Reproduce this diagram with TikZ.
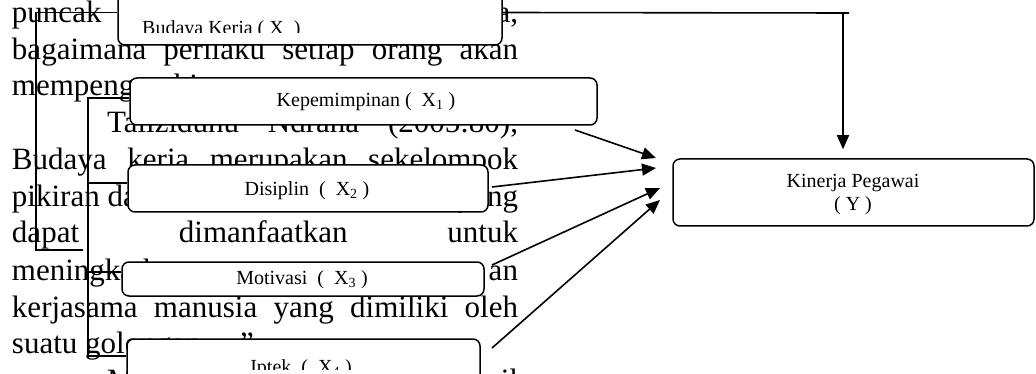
\documentclass[tikz,border=0pt]{standalone}
\usepackage{fontspec}
\setmainfont{Liberation Serif}
\usetikzlibrary{arrows.meta}
\begin{document}
\begin{tikzpicture}[x=1pt,y=-1pt,
  bg/.style={font=\fontsize{31}{37}\selectfont, inner sep=0pt, outer sep=0pt},
  box/.style={draw, line width=1.5pt, rounded corners=7pt, fill=white, inner sep=0pt},
  lbl/.style={font=\fontsize{20}{23}\selectfont, inner sep=0pt, align=center},
  ln/.style={line width=1.6pt},
  arr/.style={line width=1.6pt, -{Triangle[length=14pt,width=12pt]}}]
\useasboundingbox (0,0) rectangle (1036,374);
\clip (0,0) rectangle (1036,374);
\fill[white] (0,0) rectangle (1036,374);
% background paragraph
\node[bg, anchor=base west] (t1a) at (12,23) {puncak};
\node[bg, anchor=base east] (t1b) at (518,23) {budaya,};
\node[bg, anchor=base west] (t2) at (12,60) {\makebox[506pt][s]{bagaimana perilaku setiap orang akan}};
\node[bg, anchor=base west] (t3) at (12,96) {mempengaruhi};
\node[bg, anchor=base west] (t4) at (107,133) {\makebox[411pt][s]{Taliziduhu Ndraha (2005:80),}};
\node[bg, anchor=base west] (t5) at (12,170) {\makebox[506pt][s]{Budaya kerja merupakan sekelompok}};
\node[bg, anchor=base west] (t6a) at (12,207) {pikiran dan};
\node[bg, anchor=base east] (t6b) at (518,207) {yang};
\node[bg, anchor=base west] (t7) at (12,243) {\makebox[506pt][s]{dapat dimanfaatkan untuk}};
\node[bg, anchor=base west] (t8a) at (12,280) {meningkatkan};
\node[bg, anchor=base east] (t8b) at (518,280) {an};
\node[bg, anchor=base west] (t9) at (12,317) {\makebox[506pt][s]{kerjasama manusia yang dimiliki oleh}};
\node[bg, anchor=base west] (t10) at (12,353) {suatu golongan};
\node[bg, anchor=base west] (t10q) at (240,353) {”};
\node[bg, anchor=base west] (t11a) at (107,390) {Menurut};
\node[bg, anchor=base east] (t11b) at (518,390) {il};
% boxes
\node[box, minimum width=384pt, minimum height=65pt] (bk) at (310,12.5) {};
\begin{scope}
\clip (118,0) rectangle (502,33);
\node[lbl, anchor=base west] (bkl) at (142,35) {Budaya Kerja ( X\ \ )};
\end{scope}
\node[box, minimum width=467pt, minimum height=47pt] (x1) at (363.5,101.5) {};
\node[lbl] (x1l) at (366,102) {Kepemimpinan (\ \ X\textsubscript{1} )};
\node[box, minimum width=360pt, minimum height=47pt] (x2) at (308,188.5) {};
\node[lbl] (x2l) at (307,191) {Disiplin \ (\ \ X\textsubscript{2} )};
\node[box, minimum width=362pt, minimum height=34pt] (x3) at (303,279) {};
\node[lbl] (x3l) at (302,280) {Motivasi \ (\ \ X\textsubscript{3} )};
\node[box, minimum width=353pt, minimum height=70pt] (x4) at (303.5,374) {};
\begin{scope}
\clip (127,339) rectangle (480,369);
\node[lbl, anchor=base] (x4l) at (301,373) {Iptek \ (\ \ X\textsubscript{4} )};
\end{scope}
\node[box, minimum width=361pt, minimum height=67pt] (y) at (853.5,192.5) {};
\node[lbl] (yl) at (853,195) {Kinerja Pegawai\\( Y )};
% connector lines
\coordinate (o1) at (36,250);
\coordinate (o2) at (83,250);
\coordinate (tr) at (849,13);
\coordinate (td) at (843,13);
\draw[ln] (bk.west) -| (o1) -- (o2);
\draw[ln] (bk.east) -- (tr);
\draw[arr, shorten >=9pt] (td) -- (td |- y.north);
\coordinate (s1) at (88,98);
\coordinate (s2) at (88,183);
\coordinate (s3) at (88,272);
\coordinate (s4) at (88,356);
\draw[ln] (x1.west |- s1) -- (s1) -- (s4) -- (x4.west |- s4);
\draw[ln] (s2) -- (x2.west |- s2);
\draw[ln] (s3) -- (x3.west |- s3);
% arrows to Y
\coordinate (a1) at (575,130);
\coordinate (a2) at (492,187);
\coordinate (a3) at (492,265);
\coordinate (a4) at (492,348);
\coordinate (b1) at (656,158);
\coordinate (b2) at (656,168);
\coordinate (b3) at (660,188);
\coordinate (b4) at (660,200);
\draw[arr] (a1) -- (b1);
\draw[arr] (a2) -- (b2);
\draw[arr] (a3) -- (b3);
\draw[arr] (a4) -- (b4);
\end{tikzpicture}
\end{document}
